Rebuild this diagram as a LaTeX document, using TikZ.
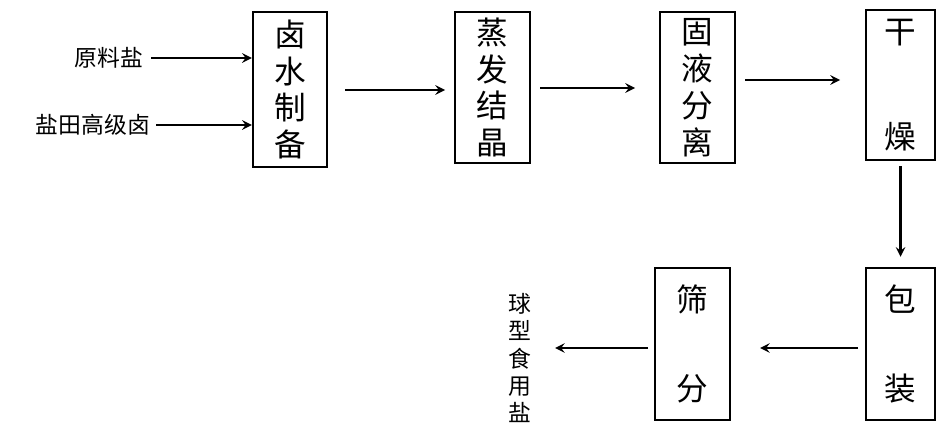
\documentclass[tikz,border=0pt]{standalone}
\usepackage{fontspec}
\newfontfamily\cjk{Noto Sans CJK SC}
\begin{document}
\begin{tikzpicture}[x=0.02cm,y=-0.02cm,
  box/.style={draw,line width=1.4pt,align=center,inner sep=0pt,font=\cjk\fontsize{18}{21}\selectfont},
  lab/.style={font=\cjk\fontsize{13}{16}\selectfont,inner sep=1pt},
  arr/.style={->,line width=1.4pt,>=stealth}]
\useasboundingbox (0,0) rectangle (949,432);
\node[box,minimum width=74*0.02cm,minimum height=155*0.02cm] (b1) at (290,89.5) {卤\\水\\制\\备};
\node[box,minimum width=75*0.02cm,minimum height=151*0.02cm] (b2) at (492.5,87.5) {蒸\\发\\结\\晶};
\node[box,minimum width=75*0.02cm,minimum height=151*0.02cm] (b3) at (697.5,87.5) {固\\液\\分\\离};
\node[box,minimum width=69*0.02cm,minimum height=150*0.02cm] (b4) at (900.5,85) {干\\[1.35cm]燥};
\node[box,minimum width=69*0.02cm,minimum height=152*0.02cm] (b5) at (900.5,344) {包\\[1.05cm]装};
\node[box,minimum width=75*0.02cm,minimum height=152*0.02cm] (b6) at (692.5,344) {筛\\[1.05cm]分};
\node[lab,anchor=east] (l1) at (145,58) {原料盐};
\node[lab,anchor=east] (l2) at (152,125) {盐田高级卤};
\node[lab,align=center,font=\cjk\fontsize{13}{15.5}\selectfont] (out) at (520,358) {球\\型\\食\\用\\盐};
\draw[arr] (l1.east)+(6,0) -- (b1.west|-l1);
\draw[arr] (l2.east)+(4,0) -- (b1.west|-l2);
\coordinate (a1) at (345,90); \coordinate (a2) at (445,90);
\draw[arr] (a1) -- (a2);
\coordinate (c1) at (540,88); \coordinate (c2) at (635,88);
\draw[arr] (c1) -- (c2);
\coordinate (d1) at (745,80); \coordinate (d2) at (840,80);
\draw[arr] (d1) -- (d2);
\draw[arr] ([yshift=-5*0.02cm]b4.south) -- ([yshift=10*0.02cm]b5.north);
\coordinate (e1) at (858,348); \coordinate (e2) at (760,348);
\draw[arr] (e1) -- (e2);
\coordinate (f1) at (648,348); \coordinate (f2) at (555,348);
\draw[arr] (f1) -- (f2);
\end{tikzpicture}
\end{document}
